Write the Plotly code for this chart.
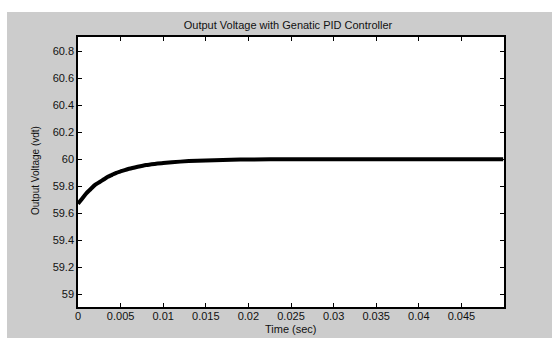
import plotly.graph_objects as go

# Time (s) and output voltage (V)
time_s = [0.0, 0.0005, 0.001, 0.0015, 0.002, 0.0025, 0.003, 0.0035, 0.004, 0.0045,
          0.005, 0.006, 0.007, 0.008, 0.009, 0.010, 0.012, 0.014, 0.016, 0.018,
          0.020, 0.025, 0.030, 0.035, 0.040, 0.045, 0.0499]
voltage = [59.67, 59.71, 59.75, 59.78, 59.81, 59.83, 59.85, 59.87, 59.885, 59.90,
           59.91, 59.93, 59.945, 59.958, 59.966, 59.973, 59.983, 59.99, 59.994, 59.997,
           59.999, 60.0, 60.0, 60.0, 60.0, 60.0, 60.0]

x_ticks = [0, 0.005, 0.01, 0.015, 0.02, 0.025, 0.03, 0.035, 0.04, 0.045]
x_tick_text = ["0", "0.005", "0.01", "0.015", "0.02", "0.025", "0.03", "0.035", "0.04", "0.045"]
y_ticks = [59, 59.2, 59.4, 59.6, 59.8, 60, 60.2, 60.4, 60.6, 60.8]
y_tick_text = ["59", "59.2", "59.4", "59.6", "59.8", "60", "60.2", "60.4", "60.6", "60.8"]

FONT = "Liberation Sans, Arial, sans-serif"
TXT = "#111111"

fig = go.Figure()
fig.add_trace(go.Scatter(
    x=time_s, y=voltage, mode="lines",
    line=dict(color="black", width=4, shape="spline", smoothing=0.6),
    showlegend=False, hoverinfo="skip",
))

L, R, T, B = 78, 48, 37, 31
W, H = 552, 338
pw, ph = W - L - R, H - T - B

def px_to_paper_x(px):
    return (px - L) / pw

def py_to_paper_y(py):
    return (H - B - py) / ph

fig.update_layout(
    width=W, height=H,
    margin=dict(l=L, r=R, t=T, b=B, pad=0, autoexpand=False),
    paper_bgcolor="#cccccc",
    plot_bgcolor="white",
    font=dict(family=FONT, size=11, color=TXT),
    title=dict(text="Output Voltage with Genatic PID Controller",
               x=px_to_paper_x(288), xref="paper", xanchor="center",
               y=1 - 25 / H, yref="container", yanchor="middle",
               font=dict(family=FONT, size=11, color=TXT)),
    shapes=[
        dict(type="rect", xref="paper", yref="paper", layer="below",
             x0=px_to_paper_x(-2), x1=px_to_paper_x(W + 2),
             y0=py_to_paper_y(12), y1=py_to_paper_y(-2),
             fillcolor="white", line=dict(width=0)),
        dict(type="rect", xref="paper", yref="paper", layer="below",
             x0=px_to_paper_x(-2), x1=px_to_paper_x(7),
             y0=py_to_paper_y(H + 2), y1=py_to_paper_y(-2),
             fillcolor="white", line=dict(width=0)),
    ],
    annotations=[
        dict(text="Time (sec)", xref="paper", yref="paper",
             x=px_to_paper_x(291), y=py_to_paper_y(329),
             xanchor="center", yanchor="middle", showarrow=False,
             font=dict(family=FONT, size=11, color=TXT)),
        dict(text="Output Voltage (vdt)", xref="paper", yref="paper",
             x=px_to_paper_x(35), y=py_to_paper_y(171),
             xanchor="center", yanchor="middle", showarrow=False, textangle=-90,
             font=dict(family=FONT, size=10, color=TXT)),
    ],
)

fig.update_xaxes(
    range=[0, 0.05], tickvals=x_ticks, ticktext=x_tick_text,
    ticks="inside", ticklen=4, tickcolor="black", tickwidth=1,
    showline=True, linecolor="black", linewidth=1.5, mirror="ticks",
    showgrid=False, zeroline=False, automargin=False,
    ticklabelstandoff=-2,
    tickfont=dict(family=FONT, size=11, color=TXT),
)
fig.update_yaxes(
    range=[58.905, 60.907], tickvals=y_ticks, ticktext=y_tick_text,
    ticks="inside", ticklen=4, tickcolor="black", tickwidth=1,
    showline=True, linecolor="black", linewidth=1.5, mirror="ticks",
    showgrid=False, zeroline=False, automargin=False,
    tickfont=dict(family=FONT, size=11, color=TXT),
)

fig.write_html("out.html")
